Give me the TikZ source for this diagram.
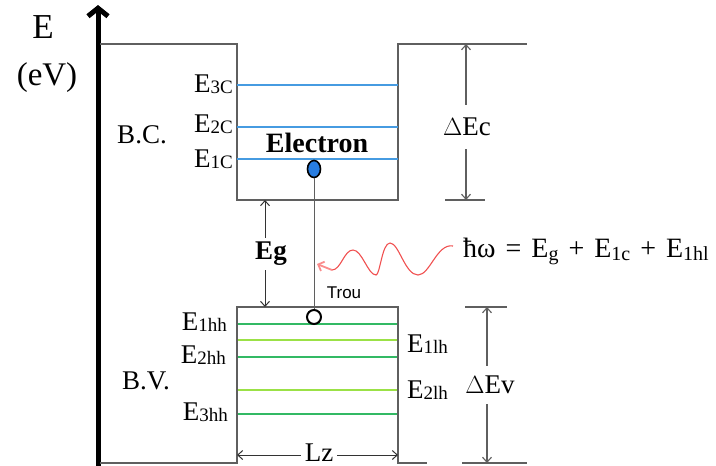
\documentclass[tikz,border=0pt]{standalone}
\usepackage{fontspec}
\setmainfont{Liberation Serif}
\newfontfamily\trousans{Liberation Sans}
\usetikzlibrary{arrows.meta,shapes.geometric}
\definecolor{bandgray}{RGB}{95,95,95}
\definecolor{lvlblue}{RGB}{70,155,225}
\definecolor{hhgreen}{RGB}{50,185,100}
\definecolor{lhgreen}{RGB}{155,225,70}
\definecolor{wavered}{RGB}{240,80,80}
\definecolor{wavetip}{RGB}{250,140,140}
\definecolor{elecblue}{RGB}{40,125,225}
\newcommand\lvlsub[1]{{\fontsize{19}{20}\selectfont\raisebox{-1pt}{#1}}}
\newcommand\fsub[1]{{\fontsize{20}{21}\selectfont\raisebox{-3pt}{#1}}}
\begin{document}
\begin{tikzpicture}[x=1pt,y=-1pt,
  band/.style={draw=bandgray,line width=1.8pt},
  dimarrow/.style={draw=bandgray,line width=1.1pt,{Straight Barb[length=5pt,width=9pt]}-{Straight Barb[length=5pt,width=9pt]}},
  lbl/.style={font=\fontsize{27}{29}\selectfont,inner sep=0pt},
  cbline/.style={draw=lvlblue,line width=1.5pt},
  hhline/.style={draw=hhgreen,line width=1.5pt},
  lhline/.style={draw=lhgreen,line width=1.5pt},
  gaplbl/.style={fill=white,inner xsep=2pt}]
\useasboundingbox (0,0) rectangle (716,466);
% axis
\coordinate (axB) at (98,466);
\coordinate (axT) at (98,5);
\draw[line width=5pt,-{Straight Barb[length=8pt,width=20pt]}] (axB) -- (axT);
\node[font=\fontsize{35}{36}\selectfont,inner sep=0pt,anchor=base] (elab) at (43,38) {E};
\node[font=\fontsize{33}{35}\selectfont,inner sep=0pt,anchor=base] (evlab) at (47,85) {(eV)};
% conduction band
\coordinate (cbL) at (100,44);
\coordinate (cb1) at (237,44);
\coordinate (cb2) at (237,200);
\coordinate (cb3) at (398,200);
\coordinate (cb4) at (398,44);
\coordinate (cbR) at (527,44);
\draw[band] (cbL) -- (cb1) -- (cb2) -- (cb3) -- (cb4) -- (cbR);
% valence band
\coordinate (vbL) at (100,463);
\coordinate (vb1) at (237,463);
\coordinate (vb2) at (237,307);
\coordinate (vb3) at (398,307);
\coordinate (vb4) at (398,463);
\coordinate (vbR1) at (427,463);
\coordinate (vbR2) at (462,463);
\coordinate (vbR3) at (527,463);
\draw[band] (vbL) -- (vb1) -- (vb2) -- (vb3) -- (vb4) -- (vbR1);
\draw[band] (vbR2) -- (vbR3);
% CB levels
\coordinate (c3a) at (237,85);  \coordinate (c3b) at (398,85);
\coordinate (c2a) at (237,127); \coordinate (c2b) at (398,127);
\coordinate (c1a) at (237,159); \coordinate (c1b) at (398,159);
\draw[cbline] (c3a) -- (c3b);
\draw[cbline] (c2a) -- (c2b);
\draw[cbline] (c1a) -- (c1b);
% VB levels
\coordinate (h1a) at (238,324); \coordinate (h1b) at (397,324);
\coordinate (l1a) at (238,340); \coordinate (l1b) at (397,340);
\coordinate (h2a) at (238,357); \coordinate (h2b) at (397,357);
\coordinate (l2a) at (238,390); \coordinate (l2b) at (397,390);
\coordinate (h3a) at (238,414); \coordinate (h3b) at (397,414);
\draw[hhline] (h1a) -- (h1b);
\draw[lhline] (l1a) -- (l1b);
\draw[hhline] (h2a) -- (h2b);
\draw[lhline] (l2a) -- (l2b);
\draw[hhline] (h3a) -- (h3b);
% labels CB
\node[lbl,anchor=base east] (e3c) at (233,92) {E\lvlsub{3C}};
\node[lbl,anchor=base east] (e2c) at (233,132) {E\lvlsub{2C}};
\node[lbl,anchor=base east] (e1c) at (233,167) {E\lvlsub{1C}};
\node[lbl,anchor=base] (bc) at (142,143) {B.C.};
\node[font=\fontsize{28}{30}\selectfont\bfseries,inner sep=0pt,anchor=base] (eltext) at (317,152) {Electron};
% labels VB
\node[lbl,anchor=base east] (e1hh) at (227,330) {E\lvlsub{1hh}};
\node[lbl,anchor=base east] (e2hh) at (226,363) {E\lvlsub{2hh}};
\node[lbl,anchor=base east] (e3hh) at (228,420) {E\lvlsub{3hh}};
\node[lbl,anchor=base] (bv) at (146,389) {B.V.};
\node[lbl,anchor=base west] (e1lh) at (407,352) {E\lvlsub{1lh}};
\node[lbl,anchor=base west] (e2lh) at (407,398) {E\lvlsub{2lh}};
% electron and hole
\node[ellipse,draw=black,fill=elecblue,line width=1.6pt,minimum width=13pt,minimum height=17pt,inner sep=0pt] (elec) at (314,169) {};
\node[circle,draw=black,line width=2pt,minimum size=14pt,inner sep=0pt] (hole) at (314,317) {};
\draw[draw=bandgray,line width=1pt] (elec) -- (hole);
\node[font=\trousans\fontsize{17}{18}\selectfont,inner sep=0pt,anchor=base] (trou) at (344,298) {Trou};
% Delta Ec
\coordinate (decT) at (466,44);
\coordinate (decB) at (466,200);
\coordinate (decTa) at (445,200);
\coordinate (decTb) at (485,200);
\draw[band] (decTa) -- (decTb);
\draw[dimarrow] (decT) -- (decB);
\node[lbl,gaplbl,inner ysep=13pt] (dec) at (467,127) {$\Delta$Ec};
% Delta Ev
\coordinate (devT) at (487,307);
\coordinate (devB) at (487,463);
\coordinate (devTa) at (465,307);
\coordinate (devTb) at (507,307);
\draw[band] (devTa) -- (devTb);
\draw[dimarrow] (devT) -- (devB);
\node[lbl,gaplbl,inner ysep=10pt] (dev) at (490,385) {$\Delta$Ev};
% Eg
\coordinate (egT) at (265,200);
\coordinate (egB) at (265,307);
\draw[dimarrow,draw=black!80,line width=1pt] (egT) -- (egB);
\node[font=\fontsize{27}{29}\selectfont\bfseries,gaplbl,inner ysep=4pt] (eg) at (271,254) {Eg};
% Lz
\coordinate (lzL) at (237,455);
\coordinate (lzR) at (398,455);
\draw[dimarrow,draw=black!80,line width=1pt] (lzL) -- (lzR);
\node[lbl,gaplbl,inner xsep=4pt,inner ysep=0pt,anchor=base] (lz) at (319,461) {Lz};
% photon
\coordinate (wv0) at (453,246);
\coordinate (wv1) at (418,275);
\coordinate (wv2) at (390,243);
\coordinate (wv3) at (376,275);
\coordinate (wv4) at (353,250);
\coordinate (wvA) at (332,270);
\coordinate (wvB) at (317,264);
\draw[wavered,line width=1.1pt] (wv0)
  .. controls (437,243) and (430,275) .. (wv1)
  .. controls (405,275) and (399,243) .. (wv2)
  .. controls (382,243) and (380,275) .. (wv3)
  .. controls (368,275) and (362,250) .. (wv4)
  .. controls (344,250) and (341,270) .. (wvA);
\draw[wavetip,line width=1.8pt,-{Straight Barb[length=5pt,width=10pt]}] (wvA) -- (wvB);
\node[font=\fontsize{28}{30}\selectfont,inner sep=0pt,anchor=base west] (formula) at (463,257)
  {ħω\hspace{10pt}=\hspace{10pt}E\fsub{g}\hspace{10pt}+\hspace{10pt}E\fsub{1c}\hspace{10pt}+\hspace{10pt}E\fsub{1hl}};
\end{tikzpicture}
\end{document}
